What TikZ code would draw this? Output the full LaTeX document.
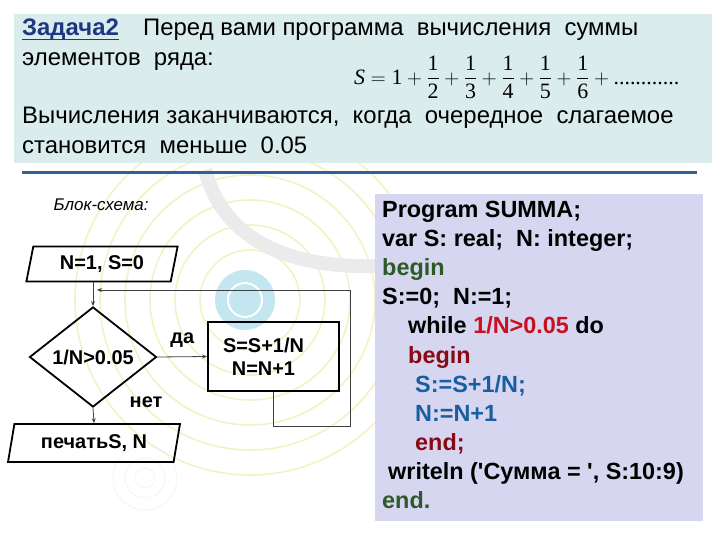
\documentclass[tikz,border=0pt]{standalone}
\usepackage{amsmath}
\usepackage{fontspec}
\setmainfont{Liberation Sans}[Ligatures=TeXOff]
\newfontfamily\tms{Liberation Serif}
\usetikzlibrary{positioning}
\usetikzlibrary{shapes.geometric}
\usetikzlibrary{arrows.meta}

\definecolor{headfill}{RGB}{218,236,236}
\definecolor{codefill}{RGB}{214,214,240}
\definecolor{titleblue}{RGB}{30,55,130}
\definecolor{rulebl}{RGB}{50,95,155}
\definecolor{kwgreen}{RGB}{45,90,40}
\definecolor{condred}{RGB}{200,16,30}
\definecolor{kwred}{RGB}{135,10,20}
\definecolor{stmblue}{RGB}{25,95,160}
\definecolor{ringyel}{RGB}{240,243,195}
\definecolor{gearcy}{RGB}{195,230,240}

\newcommand{\tm}[1]{\mbox{\tms\mdseries #1}}
\newcommand{\fr}[1]{\dfrac{\tm{1}}{\tm{#1}}}

\begin{document}
\begin{tikzpicture}[x=1bp,y=-1bp,
    head/.style={anchor=base west,inner sep=0pt,font=\fontsize{24}{28}\selectfont},
    io/.style={trapezium,trapezium left angle=76,trapezium right angle=104,
      trapezium stretches=true,draw,line width=1.8bp,inner sep=0pt},
    proc/.style={rectangle,draw,line width=1.8bp,align=center},
    test/.style={diamond,draw,line width=1.8bp,inner sep=0pt},
    flow/.style={draw=black!75,line width=0.8bp},
    every node/.append style={font=\bfseries\fontsize{20}{23}\selectfont}]
  \useasboundingbox (0,0) rectangle (720,540);
  % background decoration
  \foreach \r in {50,75,100,125,150,175}
    \draw[ringyel,line width=1.6bp] (250,300) circle (\r);
  \draw[black!8,line width=14bp] (205,170) .. controls (230,262) and (330,275) .. (430,262);
  \fill[gearcy] (245,300) circle (30);
  \draw[white,line width=2bp] (245,300) circle (17);
  \foreach \r in {10,20,32}
    \draw[black!8] (145,478) circle (\r);

  % task text
  \fill[headfill] (14,14) rectangle (712,163);
  \node[head,text=titleblue,font=\bfseries\fontsize{24}{28}\selectfont] (task) at (22,36) {Задача2};
  \draw[titleblue,line width=1.6bp] ([yshift=-3.5bp]task.base west) -- ([yshift=-3.5bp]task.base east);
  \node[head] (t1) at (143,36) {Перед вами программа\ \ вычисления\ \ суммы};
  \node[head] (t2) at (22,66) {элементов\ \ ряда:};
  \node[inner sep=0pt,anchor=west] (sum) at (354,77)
    {\fontsize{22}{26}\selectfont$\mbox{\tms\mdseries\itshape S}=\tm{1}+\fr2+\fr3+\fr4+\fr5+\fr6+\tm{............}$};
  \node[head] (t3) at (22,124) {Вычисления заканчиваются,\ \ когда\ \ очередное\ \ слагаемое};
  \node[head] (t4) at (22,154) {становится\ \ меньше\ \ 0.05};
  \draw[rulebl,line width=3bp] (22,173) -- (697,173);

  % flowchart
  \node[anchor=west,font=\itshape\fontsize{17}{20}\selectfont] (cap) at (50,205) {Блок-схема:};
  \node[io,minimum width=152bp,minimum height=35bp] (init) at (102,264) {N=1, S=0};
  \node[test,minimum width=127bp,minimum height=100bp] (cond) at (93,357) {1/N>0.05};
  \node[proc,minimum width=131bp,minimum height=69bp] (upd) at (273.5,356.5)
    {S=S+1/N\hspace*{20bp}\\N=N+1\hspace*{20bp}};
  \node[io,minimum width=172bp,minimum height=38bp] (out) at (94,443) {печатьS, N};
  \coordinate (join) at (cond.north |- 0,290);
  \coordinate (back) at (350,290);

  \draw[flow,-{Stealth[length=5bp,width=4bp]}] (cond.north |- init.south) -- (cond.north);
  \draw[flow,-{Stealth[length=5bp,width=4bp]}] (cond.east) -- node[above=6bp] {да} (upd.west);
  \draw[flow,-{Stealth[length=5bp,width=4bp]}] (cond.south) -- node[pos=0,anchor=south west,xshift=33bp,yshift=-4bp] {нет} (out.north);
  \draw[flow,-{Stealth[length=5bp,width=4bp]}] (upd.south) -- ++(0,34) -| (back) -- ([xshift=4bp]join);

  % program text
  \fill[codefill] (375,194) rectangle (703,521);
  \node[anchor=north west,align=left,inner sep=0pt,
    font=\bfseries\fontsize{23.5}{29.2}\selectfont] (code) at (382,201) {%
    Program SUMMA;\\
    var S: real;\ \ N: integer;\\
    \textcolor{kwgreen}{begin}\\
    S:=0;\ \ N:=1;\\
    \hspace*{26bp}while \textcolor{condred}{1/N>0.05} do\\
    \hspace*{26bp}\textcolor{kwred}{begin}\\
    \hspace*{33bp}\textcolor{stmblue}{S:=S+1/N;}\\
    \hspace*{33bp}\textcolor{stmblue}{N:=N+1}\\
    \hspace*{33bp}\textcolor{kwred}{end;}\\
    \hspace*{6bp}writeln ('Сумма = ', S:10:9)\\
    \textcolor{kwgreen}{end.}};
\end{tikzpicture}
\end{document}
